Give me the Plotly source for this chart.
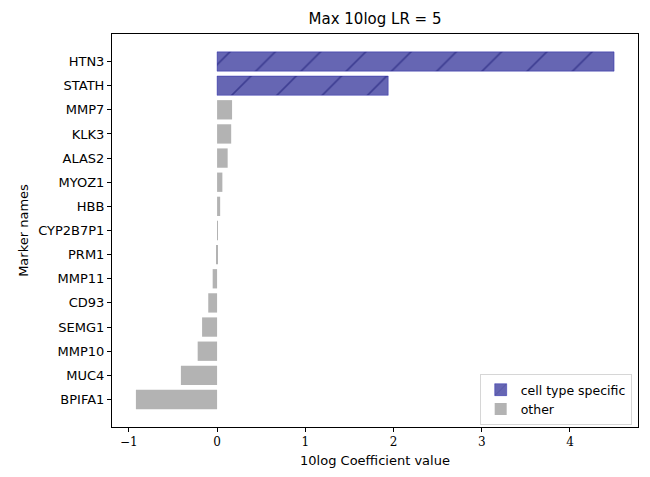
import plotly.graph_objects as go

# Marker genes, top to bottom, with their 10log coefficient values
markers = ["HTN3", "STATH", "MMP7", "KLK3", "ALAS2", "MYOZ1", "HBB", "CYP2B7P1",
           "PRM1", "MMP11", "CD93", "SEMG1", "MMP10", "MUC4", "BPIFA1"]
coef = [4.50, 1.94, 0.17, 0.16, 0.12, 0.06, 0.035, 0.01,
        -0.005, -0.05, -0.10, -0.17, -0.22, -0.41, -0.92]
specific = ["HTN3", "STATH"]

x_ticks = [-1, 0, 1, 2, 3, 4]
x_tick_text = ["\u22121", "0", "1", "2", "3", "4"]

spec_names = [m for m in markers if m in specific]
spec_vals = [v for m, v in zip(markers, coef) if m in specific]
other_names = [m for m in markers if m not in specific]
other_vals = [v for m, v in zip(markers, coef) if m not in specific]

fig = go.Figure()
fig.add_trace(go.Bar(
    y=spec_names, x=spec_vals, orientation="h", width=0.8,
    name="cell type specific",
    marker=dict(color="rgba(0,0,128,0.6)",
                line=dict(color="rgba(0,0,160,0.35)", width=1),
                pattern=dict(shape="/", fgcolor="#141470", size=32, solidity=0.05)),
))
fig.add_trace(go.Bar(
    y=other_names, x=other_vals, orientation="h", width=0.8,
    name="other",
    marker=dict(color="#b3b3b3", line=dict(width=0)),
))

n = len(markers)
pad = 0.05 * (n - 1 + 0.8)
fig.update_layout(
    width=650, height=477,
    margin=dict(l=112, r=11, t=34, b=45),
    paper_bgcolor="white", plot_bgcolor="white",
    barmode="overlay",
    title=dict(text="Max 10log LR = 5", x=0.5, xref="paper", xanchor="center",
               y=1 - 19 / 477, yref="container", yanchor="middle",
               font=dict(family="DejaVu Sans", size=15, color="black")),
    font=dict(family="DejaVu Sans", size=13, color="black"),
    legend=dict(x=0.988, y=0.005, xanchor="right", yanchor="bottom",
                bgcolor="white", bordercolor="#d6d6d6", borderwidth=1,
                font=dict(size=12.5), traceorder="normal"),
    showlegend=True,
)
xmin, xmax = min(coef), max(coef)
xpad = 0.05 * (xmax - xmin)
fig.update_xaxes(
    range=[xmin - xpad, xmax + xpad],
    tickvals=x_ticks, ticktext=x_tick_text,
    tickfont=dict(family="DejaVu Serif", size=12),
    ticks="outside", ticklen=4, tickcolor="black",
    showline=True, linecolor="black", linewidth=1, mirror=True,
    showgrid=False, zeroline=False,
    title=dict(text="10log Coefficient value", font=dict(size=13), standoff=7),
)
fig.update_yaxes(
    type="category", categoryorder="array", categoryarray=markers[::-1],
    range=[-0.4 - pad, n - 1 + 0.4 + pad],
    ticks="outside", ticklen=4, tickcolor="black",
    showline=True, linecolor="black", linewidth=1, mirror=True,
    showgrid=False, zeroline=False,
    title=dict(text="Marker names", font=dict(size=13), standoff=6),
)

fig.write_html("out.html")
